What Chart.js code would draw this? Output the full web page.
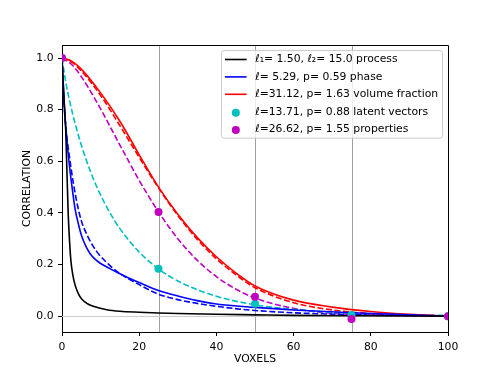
<!DOCTYPE html>
<html>
<head>
<meta charset="utf-8">
<script src="https://cdn.jsdelivr.net/npm/chart.js@4/dist/chart.umd.min.js"></script>
<style>
  html, body { margin: 0; padding: 0; background: #fff; }
</style>
</head>
<body>
<canvas id="corr-chart" width="498" height="374"></canvas>
<script>
// values
const blackX = [0, 0.5, 0.96, 1.3, 1.6, 2.0, 2.3, 2.8, 3.4, 4.2, 5.1, 6.5, 8.1, 11.6, 15, 20, 25, 30, 40, 50, 60, 75, 100];
const blackY = [1.0, 0.85, 0.72, 0.55, 0.40, 0.28, 0.215, 0.16, 0.12, 0.088, 0.066, 0.049, 0.038, 0.025, 0.019, 0.015, 0.012, 0.010, 0.007, 0.005, 0.003, 0.0015, 0.0];

const blueX = [0, 0.5, 1.0, 1.8, 2.6, 3.4, 4.2, 5.1, 6.2, 7.3, 8.5, 9.9, 12.4, 14.6, 17, 20, 25, 30, 35, 40, 50, 60, 75, 90, 100];
const blueY = [1.0, 0.84, 0.73, 0.60, 0.50, 0.415, 0.36, 0.31, 0.27, 0.242, 0.222, 0.205, 0.184, 0.167, 0.15, 0.13, 0.099, 0.078, 0.06, 0.047, 0.034, 0.024, 0.013, 0.005, 0.0];
const blueFitX = [0, 0.5, 1, 2, 3, 4, 5, 6.8, 9, 12.5, 15, 20, 25, 30, 40, 50, 60, 75, 100];
const blueFitY = [1.0, 0.83, 0.73, 0.61, 0.51, 0.43, 0.37, 0.305, 0.25, 0.195, 0.165, 0.122, 0.085, 0.064, 0.038, 0.022, 0.013, 0.006, 0.001];

const redX = [0, 2.5, 5, 10, 15, 20, 25, 30, 35, 40, 45, 50, 60, 70, 80, 90, 100];
const redY = [1.0, 0.988, 0.957, 0.865, 0.755, 0.625, 0.50, 0.395, 0.305, 0.230, 0.168, 0.117, 0.062, 0.035, 0.018, 0.007, 0.0];
const redFitY = [1.0, 0.984, 0.950, 0.855, 0.738, 0.615, 0.497, 0.390, 0.298, 0.222, 0.161, 0.110, 0.052, 0.024, 0.0095, 0.0035, 0.001];

const cyanX = [0, 1, 2, 3.4, 5, 7.5, 10, 12.5, 15, 20, 25, 30, 40, 50, 60, 70, 80, 90, 100];
const cyanY = [1.0, 0.905, 0.832, 0.746, 0.663, 0.555, 0.469, 0.398, 0.339, 0.248, 0.183, 0.136, 0.077, 0.044, 0.026, 0.015, 0.009, 0.005, 0.003];

const magX = [0, 2.5, 5, 10, 15, 20, 25, 30, 35, 40, 45, 50, 60, 70, 80, 90, 100];
const magY = [1.0, 0.975, 0.928, 0.803, 0.663, 0.526, 0.404, 0.300, 0.217, 0.153, 0.105, 0.070, 0.030, 0.011, 0.004, 0.001, 0.0];

const sampleX = [0, 25, 50, 75, 100];
const cyanDots = [1.0, 0.184, 0.048, 0.004, 0.0];
const magDots = [1.0, 0.403, 0.075, -0.011, 0.0];

const xTicks = [0, 20, 40, 60, 80, 100];
const yTicks = [0, 0.2, 0.4, 0.6, 0.8, 1.0];
const refLinesX = [25, 50, 75];

const legendItems = [
    { kind: 'line', color: '#000000', text: 'ℓ₁= 1.50, ℓ₂= 15.0 process' },
    { kind: 'line', color: '#0000ff', text: 'ℓ= 5.29, p= 0.59 phase' },
    { kind: 'line', color: '#ff0000', text: 'ℓ=31.12, p= 1.63 volume fraction' },
    { kind: 'dot', color: '#00bfbf', text: 'ℓ=13.71, p= 0.88 latent vectors' },
    { kind: 'dot', color: '#bf00bf', text: 'ℓ=26.62, p= 1.55 properties' }
];

const FONT = 'DejaVu Sans';
const pts = (xs, ys) => xs.map((x, i) => ({ x: x, y: ys[i] }));

function lineSet(xs, ys, color, dashed) {
    return {
        data: pts(xs, ys),
        showLine: true,
        borderColor: color,
        borderWidth: 1.6,
        borderDash: dashed ? [6, 2.6] : [],
        pointRadius: 0,
        cubicInterpolationMode: 'monotone',
        fill: false,
        order: 1
    };
}

function dotSet(xs, ys, color, order) {
    return {
        data: pts(xs, ys),
        showLine: false,
        backgroundColor: color,
        borderWidth: 0,
        pointRadius: 4,
        order: order
    };
}

const refPlugin = {
    id: 'refs',
    beforeDatasetsDraw(chart) {
        const { ctx, chartArea: a, scales: { x, y } } = chart;
        ctx.save();
        ctx.lineWidth = 1;
        ctx.strokeStyle = '#a0a0a0';
        refLinesX.forEach(v => {
            const px = Math.round(x.getPixelForValue(v)) + 0.5;
            ctx.beginPath();
            ctx.moveTo(px, a.top);
            ctx.lineTo(px, a.bottom);
            ctx.stroke();
        });
        ctx.strokeStyle = '#cccccc';
        const py = Math.round(y.getPixelForValue(0)) + 0.5;
        ctx.beginPath();
        ctx.moveTo(a.left, py);
        ctx.lineTo(a.right, py);
        ctx.stroke();
        ctx.restore();
    },
    afterDraw(chart) {
        const { ctx, chartArea: a } = chart;
        ctx.save();
        // top and right spines
        ctx.strokeStyle = '#000';
        ctx.lineWidth = 1;
        ctx.beginPath();
        ctx.moveTo(a.left, a.top + 0.5);
        ctx.lineTo(a.right + 0.5, a.top + 0.5);
        ctx.lineTo(a.right + 0.5, a.bottom);
        ctx.stroke();

        // legend box
        ctx.font = '10.8px "' + FONT + '"';
        const textW = Math.max(...legendItems.map(it => ctx.measureText(it.text).width));
        const w = 3.5 + 21.6 + 8.6 + textW + 4.3;
        const rowH = 17.4;
        const h = 9 + rowH * (legendItems.length - 1) + 9;
        const right = a.right - 5.5;
        const left = right - w;
        const top = a.top + 5.5;
        ctx.beginPath();
        ctx.roundRect(left, top, w, h, 2.5);
        ctx.fillStyle = 'rgba(255,255,255,0.8)';
        ctx.fill();
        ctx.strokeStyle = '#cccccc';
        ctx.stroke();

        legendItems.forEach((it, i) => {
            const cy = top + 9 + i * rowH;
            const hx = left + 3.5;
            if (it.kind === 'line') {
                ctx.strokeStyle = it.color;
                ctx.lineWidth = 1.6;
                ctx.beginPath();
                ctx.moveTo(hx, cy);
                ctx.lineTo(hx + 21.6, cy);
                ctx.stroke();
            } else {
                ctx.fillStyle = it.color;
                ctx.beginPath();
                ctx.arc(hx + 10.8, cy + 1, 4, 0, Math.PI * 2);
                ctx.fill();
            }
            ctx.fillStyle = '#000';
            ctx.textBaseline = 'middle';
            ctx.textAlign = 'left';
            ctx.fillText(it.text, hx + 21.6 + 8.6, cy);
        });
        ctx.restore();
    }
};

const ctx = document.getElementById('corr-chart').getContext('2d');
new Chart(ctx, {
    type: 'scatter',
    data: {
        datasets: [
            lineSet(blackX, blackY, '#000000', false),
            lineSet(blueX, blueY, '#0000ff', false),
            lineSet(redX, redY, '#ff0000', false),
            lineSet(blueFitX, blueFitY, '#0000ff', true),
            lineSet(redX, redFitY, '#ff0000', true),
            lineSet(cyanX, cyanY, '#00bfbf', true),
            lineSet(magX, magY, '#bf00bf', true),
            dotSet(sampleX, cyanDots, '#00bfbf', 0),
            dotSet(sampleX, magDots, '#bf00bf', -1)
        ]
    },
    options: {
        responsive: false,
        animation: false,
        layout: { padding: { left: 21, top: 45, right: 50, bottom: 8 } },
        plugins: { legend: { display: false }, tooltip: { enabled: false } },
        scales: {
            x: {
                type: 'linear', min: 0, max: 100,
                afterBuildTicks: s => { s.ticks = xTicks.map(v => ({ value: v })); },
                afterFit: s => { s.height = 34; },
                ticks: { color: '#000', font: { family: FONT, size: 10.8 }, padding: 5, maxRotation: 0, callback: v => v },
                grid: { drawOnChartArea: false, color: '#000', tickLength: 4 },
                border: { color: '#000', width: 1 },
                title: { display: true, text: 'VOXELS', color: '#000', font: { family: FONT, size: 10.8 }, padding: 0 }
            },
            y: {
                min: -0.0615, max: 1.0505,
                afterBuildTicks: s => { s.ticks = yTicks.map(v => ({ value: v })); },
                afterFit: s => { s.width = 41; },
                ticks: { color: '#000', font: { family: FONT, size: 10.8 }, padding: 4.5, callback: v => v.toFixed(1) },
                grid: { drawOnChartArea: false, color: '#000', tickLength: 4 },
                border: { color: '#000', width: 1 },
                title: { display: true, text: 'CORRELATION', color: '#000', font: { family: FONT, size: 10.8 }, padding: 0 }
            }
        }
    },
    plugins: [refPlugin]
});
</script>
</body>
</html>
